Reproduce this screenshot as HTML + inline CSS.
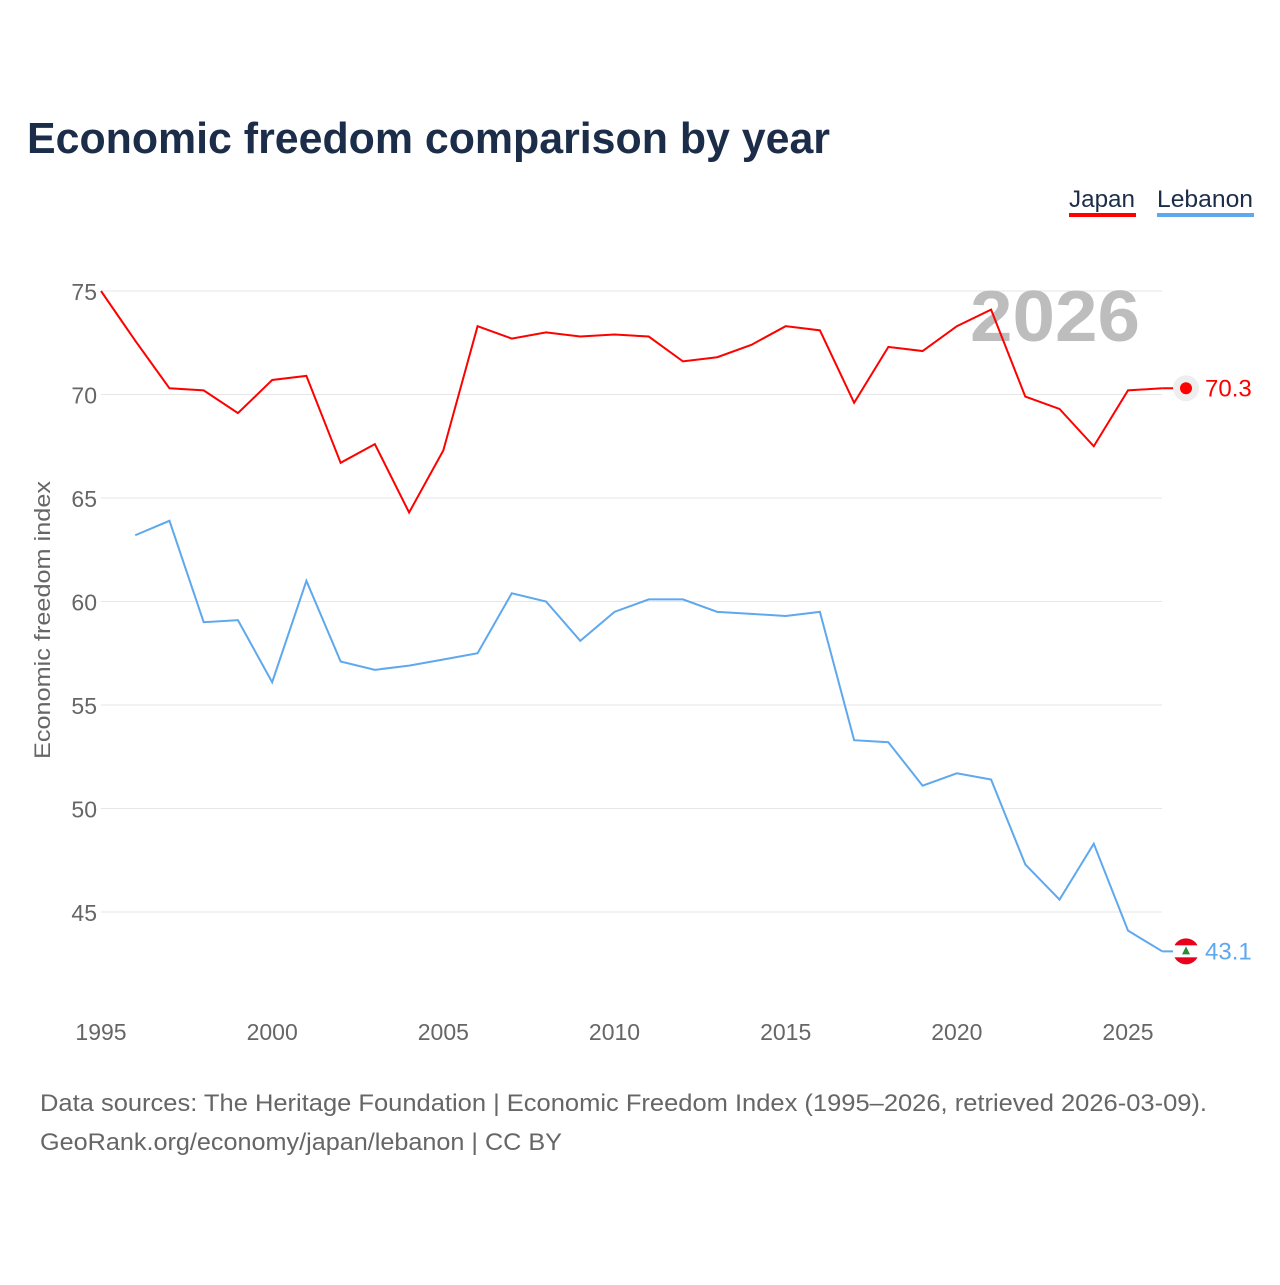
<!DOCTYPE html>
<html><head><meta charset="utf-8"><style>
body{margin:0;background:#fff;font-family:"Liberation Sans",sans-serif;}
</style></head><body>
<svg id="chart" width="1280" height="1280" xmlns="http://www.w3.org/2000/svg">
<rect width="1280" height="1280" fill="#fff"/>
<text x="27" y="153" font-size="44" font-weight="bold" fill="#1c2d4a" textLength="803" lengthAdjust="spacingAndGlyphs">Economic freedom comparison by year</text>
<g>
<text x="1069" y="207" font-size="24" fill="#1c2d4a" textLength="66" lengthAdjust="spacingAndGlyphs">Japan</text>
<rect x="1069" y="213" width="67" height="4" fill="#ff0000"/>
<text x="1157" y="207" font-size="24" fill="#1c2d4a" textLength="96" lengthAdjust="spacingAndGlyphs">Lebanon</text>
<rect x="1157" y="213" width="97" height="4" fill="#5ea8ee"/>
</g>
<g id="grid"></g>
<text x="1055" y="341" font-size="72" font-weight="bold" fill="#bdbdbd" text-anchor="middle" textLength="170" lengthAdjust="spacingAndGlyphs">2026</text>
<text transform="translate(50,620) rotate(-90)" font-size="22" fill="#666" text-anchor="middle" textLength="278" lengthAdjust="spacingAndGlyphs">Economic freedom index</text>
<g id="marks"></g>
<text x="40" y="1111" font-size="24" fill="#666" textLength="1167" lengthAdjust="spacingAndGlyphs">Data sources: The Heritage Foundation | Economic Freedom Index (1995–2026, retrieved 2026-03-09).</text>
<text x="40" y="1150" font-size="24" fill="#666" textLength="522" lengthAdjust="spacingAndGlyphs">GeoRank.org/economy/japan/lebanon | CC BY</text>
</svg>
<script>
const yTicks=[45,50,55,60,65,70,75];
const xTicks=[1995,2000,2005,2010,2015,2020,2025];
const japanYears=[1995,1996,1997,1998,1999,2000,2001,2002,2003,2004,2005,2006,2007,2008,2009,2010,2011,2012,2013,2014,2015,2016,2017,2018,2019,2020,2021,2022,2023,2024,2025,2026];
const japanValues=[75.0,72.6,70.3,70.2,69.1,70.7,70.9,66.7,67.6,64.3,67.3,73.3,72.7,73.0,72.8,72.9,72.8,71.6,71.8,72.4,73.3,73.1,69.6,72.3,72.1,73.3,74.1,69.9,69.3,67.5,70.2,70.3];
const lebanonYears=[1996,1997,1998,1999,2000,2001,2002,2003,2004,2005,2006,2007,2008,2009,2010,2011,2012,2013,2014,2015,2016,2017,2018,2019,2020,2021,2022,2023,2024,2025,2026];
const lebanonValues=[63.2,63.9,59.0,59.1,56.1,61.0,57.1,56.7,56.9,57.2,57.5,60.4,60.0,58.1,59.5,60.1,60.1,59.5,59.4,59.3,59.5,53.3,53.2,51.1,51.7,51.4,47.3,45.6,48.3,44.1,43.1];
const NS="http://www.w3.org/2000/svg";
const x=yr=>101+(yr-1995)*(1128-101)/30;
const y=v=>394.5+(70-v)*(912-394.5)/25;
function mk(t,a,p){const e=document.createElementNS(NS,t);for(const k in a)e.setAttribute(k,a[k]);p.appendChild(e);return e;}
const grid=document.getElementById('grid'),marks=document.getElementById('marks');
yTicks.forEach(v=>{
 const l=mk('line',{x1:101,x2:1162,y1:y(v),y2:y(v),stroke:'#e6e6e6','stroke-width':1},grid);
 
 
 const t=mk('text',{x:97,y:y(v)+9,'font-size':23,fill:'#666','text-anchor':'end'},grid);t.textContent=v;
 
 
});
xTicks.forEach(v=>{
 const t=mk('text',{x:x(v),y:1040,'font-size':23,fill:'#666','text-anchor':'middle'},grid);t.textContent=v;
 
 
});
function series(yrs,vals,col,name){
 const p=mk('polyline',{points:yrs.map((yr,i)=>x(yr)+','+y(vals[i])).join(' '),fill:'none',stroke:col,'stroke-width':2},marks);
 
 
 const lv=vals[vals.length-1],ly=y(lv);
 mk('line',{x1:x(yrs[yrs.length-1]),x2:1186,y1:ly,y2:ly,stroke:col,'stroke-width':2},marks);
 const c=mk('circle',{cx:1186,cy:ly,r:13,fill:'#eee'},marks);
 
 
 const t=mk('text',{x:1205,y:ly+8,'font-size':24,fill:col},marks);t.textContent=lv.toFixed(1);
 
 
 return ly;
}
const jy=series(japanYears,japanValues,'#ff0000','japan');
mk('circle',{cx:1186,cy:jy,r:6,fill:'#ff0000'},marks);
const ly=series(lebanonYears,lebanonValues,'#5ea8ee','lebanon');
mk('circle',{cx:1186,cy:ly,r:13,fill:'#e8001c'},marks);
mk('rect',{x:1173,y:ly-6,width:26,height:12,fill:'#fff'},marks);
mk('polygon',{points:`1186,${ly-5} 1182,${ly+3} 1190,${ly+3}`,fill:'#2a8a3a'},marks);
</script>
</body></html>
